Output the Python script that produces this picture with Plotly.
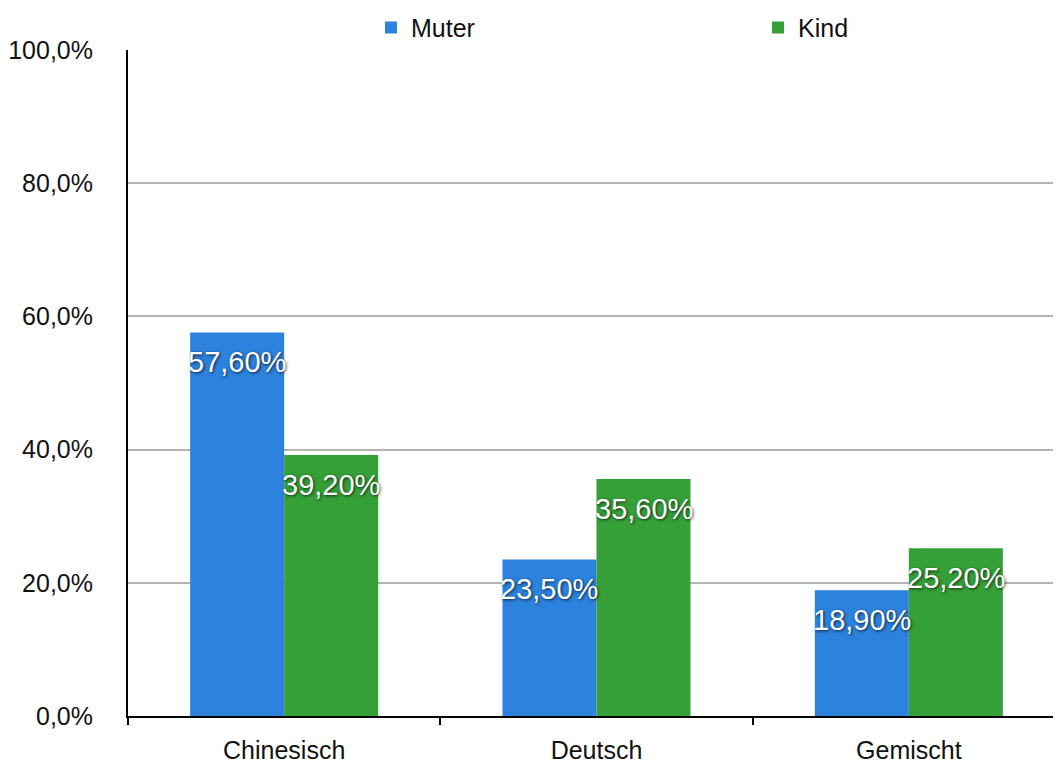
import plotly.graph_objects as go

categories = ["Chinesisch", "Deutsch", "Gemischt"]
muter = [57.6, 23.5, 18.9]
kind = [39.2, 35.6, 25.2]
series_names = ["Muter", "Kind"]
tick_vals = [0, 20, 40, 60, 80, 100]
tick_text = ["0,0%", "20,0%", "40,0%", "60,0%", "80,0%", "100,0%"]

FONT = "Liberation Sans, Arial, Helvetica, sans-serif"
W, H = 1061, 762
ML, MR, MT, MB = 120, 4, 42, 54
BARGAP = 0.398

def label(v):
    return f"{v:.2f}".replace(".", ",") + "%"

fig = go.Figure()
traces = [(series_names[0], muter, "#2c82dc", "legend"),
          (series_names[1], kind, "#36a038", "legend2")]
for name, vals, col, lg in traces:
    fig.add_trace(go.Bar(
        x=categories, y=vals, name=name, legend=lg, showlegend=True,
        marker=dict(color=col, line=dict(width=0)),
    ))

# data labels (white with shadow) placed just below the top of each bar
plot_w = W - ML - MR
bar_w = plot_w / len(categories) * (1 - BARGAP) / 2
for k, vals in enumerate([muter, kind]):
    shift = (k - 0.5) * bar_w
    for c, v in zip(categories, vals):
        fig.add_annotation(
            x=c, y=v, xref="x", yref="y", text=label(v), showarrow=False,
            xshift=shift, yshift=-12, yanchor="top", xanchor="center",
            font=dict(family=FONT, size=29, color="white",
                      shadow="1px 1px 3px rgba(0,0,0,0.75)"),
        )

legend_common = dict(orientation="h", yref="container", y=0.974, yanchor="middle",
                     xref="container", xanchor="left",
                     font=dict(family=FONT, size=25, color="#111111"),
                     bgcolor="rgba(0,0,0,0)", visible=True)

fig.update_layout(
    width=W, height=H,
    margin=dict(l=ML, r=MR, t=MT, b=MB, autoexpand=False),
    paper_bgcolor="white", plot_bgcolor="white",
    showlegend=True,
    barmode="group", bargap=BARGAP, bargroupgap=0,
    separators=",.",
    font=dict(family=FONT, size=25, color="#111111"),
    legend=dict(x=363 / W, **legend_common),
    legend2=dict(x=750 / W, **legend_common),
    xaxis=dict(showline=True, linecolor="black", linewidth=2, automargin=False,
               tickson="boundaries", ticks="outside", ticklen=7, tickwidth=2, tickcolor="black",
               ticklabelstandoff=11,
               showgrid=False, tickfont=dict(family=FONT, size=25, color="#111111")),
    yaxis=dict(range=[0, 100], tickvals=tick_vals, ticktext=tick_text, automargin=False,
               showline=True, linecolor="black", linewidth=2,
               showgrid=True, gridcolor="#b4b4b4", gridwidth=2, zeroline=False,
               ticks="", ticklabelstandoff=28,
               tickfont=dict(family=FONT, size=25, color="#111111")),
)

fig.write_html("out.html")
